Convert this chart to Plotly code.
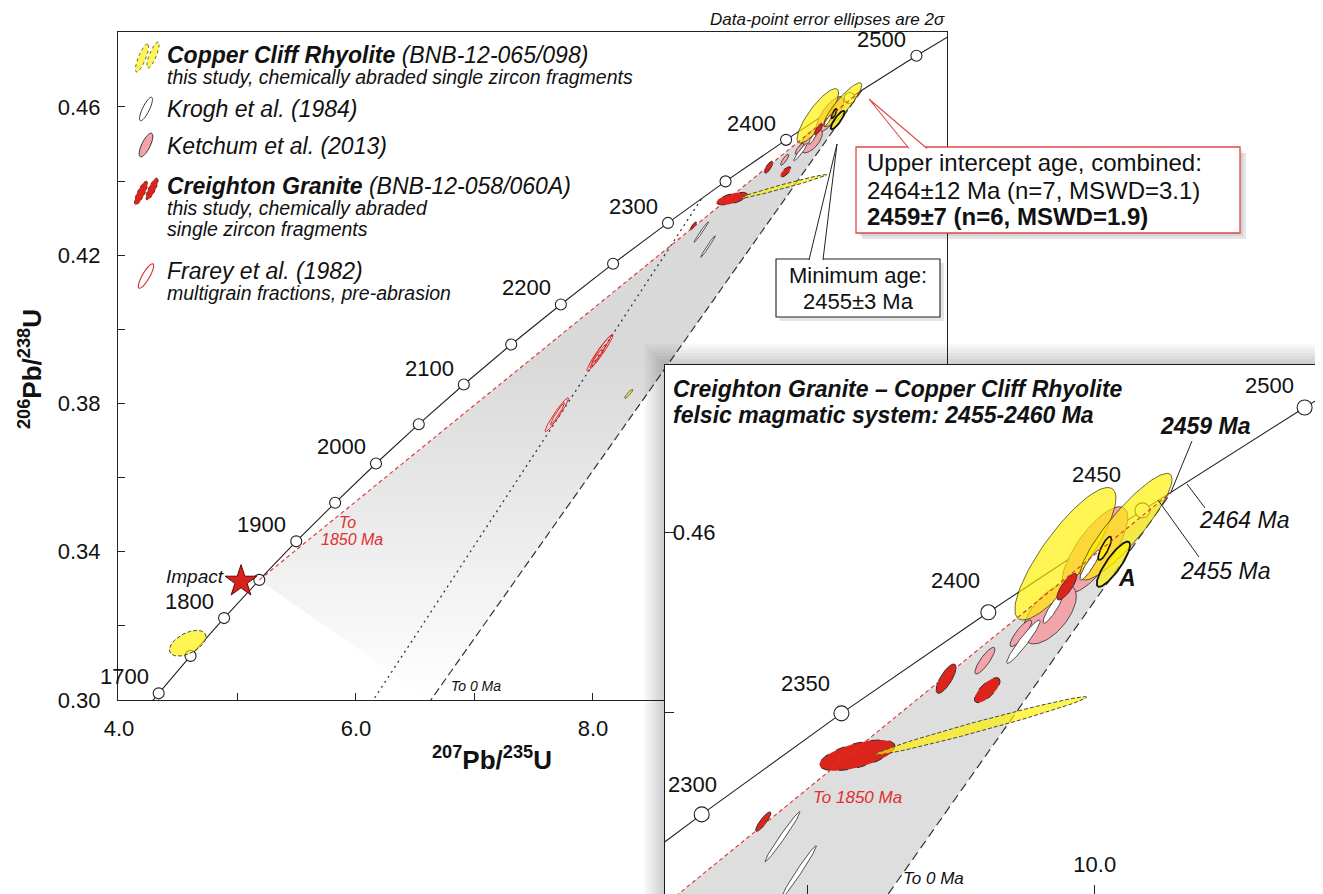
import numpy as np
import plotly.graph_objects as go

# screen size and the page's default body offset
SW, SH = 1323, 894
OFF = 8
W, H = SW - OFF, SH - OFF
FONT = "Liberation Sans, Arial, Helvetica, sans-serif"

# ---------------- data ----------------
# Wetherill concordia reference points (every 50 Ma)
conc_age = [1650, 1700, 1750, 1800, 1850, 1900, 1950, 2000, 2050, 2100,
            2150, 2200, 2250, 2300, 2350, 2400, 2450, 2500, 2550]
conc_x = [4.078, 4.335, 4.604, 4.887, 5.184, 5.496, 5.824, 6.169, 6.530, 6.910,
          7.310, 7.729, 8.170, 8.633, 9.119, 9.630, 10.166, 10.730, 11.322]
conc_y = [0.2917, 0.3018, 0.3119, 0.3221, 0.3324, 0.3428, 0.3532, 0.3638, 0.3744, 0.3851,
          0.3959, 0.4067, 0.4177, 0.4287, 0.4399, 0.4511, 0.4624, 0.4738, 0.4852]
main_label_ages = [1700, 1800, 1900, 2000, 2100, 2200, 2300, 2400, 2500]
inset_label_ages = [2300, 2350, 2400, 2450, 2500]

# chords (end points)
red_chord_x = [5.184, 10.266]      # 1850 Ma -> 2459 Ma
red_chord_y = [0.3324, 0.4644]
zero_chord_x = [0.0, 10.266]       # 0 Ma -> 2459 Ma
zero_chord_y = [0.0, 0.4644]
frarey_chord_x = [0.0, 8.92]
frarey_chord_y = [0.0, 0.4354]
wedge_x = [5.184, 10.266, 6.631]
wedge_y = [0.3324, 0.4644, 0.300]

# Copper Cliff Rhyolite (yellow)
ccr_x = [9.898, 10.109, 10.065, 10.035, 9.604, 4.580, 8.302]
ccr_y = [0.45759, 0.46059, 0.45643, 0.45819, 0.43852, 0.31532, 0.38260]
ccr_sx = [0.1757, 0.160, 0.058, 0.023, 0.368, 0.154, 0.034]
ccr_sy = [0.00734, 0.00591, 0.0025, 0.0013, 0.00323, 0.00346, 0.0012]
ccr_rho = [0.84, 0.89, 0.85, 0.80, 0.984, 0.51, 0.90]
# Creighton Granite (red)
cg_x = [9.174, 9.483, 9.626, 9.903, 8.847]
cg_y = [0.43525, 0.44374, 0.44247, 0.45394, 0.4279]
cg_sx = [0.1316, 0.0348, 0.0446, 0.0348, 0.0266]
cg_sy = [0.0017, 0.00163, 0.00139, 0.00148, 0.00108]
cg_rho = [0.59, 0.76, 0.72, 0.80, 0.87]
# Ketchum et al. (2013) (pink)
ket_x = [10.000, 9.843, 9.743, 9.618]
ket_y = [0.4580, 0.4509, 0.44877, 0.44574]
ket_sx = [0.115, 0.093, 0.0377, 0.0348]
ket_sy = [0.0048, 0.0033, 0.00148, 0.00148]
ket_rho = [0.75, 0.60, 0.85, 0.85]
# Krogh et al. (1984) (white)
kr_x = [8.914, 8.971, 9.752, 9.855, 9.983]
kr_y = [0.42623, 0.42235, 0.44784, 0.45155, 0.45634]
kr_sx = [0.0609, 0.061, 0.058, 0.0348, 0.0348]
kr_sy = [0.00277, 0.0029, 0.0024, 0.00166, 0.00166]
kr_rho = [0.985, 0.985, 0.95, 0.90, 0.90]
# Frarey et al. (1982) (red outline)
fr_x = [8.059, 8.070, 8.045, 7.695, 7.700]
fr_y = [0.39369, 0.3945, 0.3928, 0.37697, 0.3772]
fr_sx = [0.110, 0.080, 0.070, 0.099, 0.060]
fr_sy = [0.00495, 0.0037, 0.0032, 0.00459, 0.0030]
fr_rho = [0.96, 0.97, 0.97, 0.96, 0.97]

impact_x = [5.03]
impact_y = [0.3320]

# ---------------- styles ----------------
YEL = "rgba(255,240,0,0.68)"
RED = "#dc241c"
PINK = "#f2a4ab"
OUT = "#2a2a2a"
ccr_style = [("solid", 0.8), ("solid", 0.8), ("solid", 1.8), ("solid", 1.6),
             ("dash", 1.0), ("dash", 1.0), ("solid", 0.6)]
cg_style = [("dash", 1.0), ("solid", 0.9), ("dash", 1.0), ("solid", 0.9), ("solid", 0.9)]

fig = go.Figure()


def ell_xy(cx, cy, sx, sy, rho, n=90):
    t = np.linspace(0, 2 * np.pi, n)
    return cx + sx * np.cos(t), cy + sy * (rho * np.cos(t) + np.sqrt(1 - rho * rho) * np.sin(t))


def add_ell(cx, cy, sx, sy, rho, fill, lc, lw, dash, xa, ya):
    x, y = ell_xy(cx, cy, sx, sy, rho)
    fig.add_trace(go.Scatter(
        x=x, y=y, mode="lines", fill="toself" if fill else "none",
        fillcolor=fill if fill else None,
        line=dict(color=lc, width=lw, dash=dash),
        xaxis=xa, yaxis=ya, hoverinfo="skip", showlegend=False))


def add_panel(xa, ya, main):
    # wedge
    if main:
        fig.add_trace(go.Scatter(
            x=wedge_x + [wedge_x[0]], y=wedge_y + [wedge_y[0]], mode="none", fill="toself",
            fillgradient=dict(type="vertical", start=0.30, stop=0.392,
                              colorscale=[[0, "rgb(255,255,255)"], [1, "rgb(217,217,217)"]]),
            xaxis=xa, yaxis=ya, hoverinfo="skip", showlegend=False))
        fig.add_trace(go.Scatter(
            x=frarey_chord_x, y=frarey_chord_y, mode="lines",
            line=dict(color="#333", width=1.3, dash="2px,4px"),
            xaxis=xa, yaxis=ya, hoverinfo="skip", showlegend=False))
    else:
        fig.add_trace(go.Scatter(
            x=wedge_x + [wedge_x[0]], y=wedge_y + [wedge_y[0]], mode="none", fill="toself",
            fillcolor="rgb(222,222,222)", xaxis=xa, yaxis=ya, hoverinfo="skip", showlegend=False))
    fig.add_trace(go.Scatter(
        x=zero_chord_x, y=zero_chord_y, mode="lines",
        line=dict(color="#333", width=1.2, dash="9px,5px" if not main else "8px,4px"),
        xaxis=xa, yaxis=ya, hoverinfo="skip", showlegend=False))
    # concordia
    fig.add_trace(go.Scatter(
        x=conc_x, y=conc_y, mode="lines", line=dict(color="#222", width=1.1),
        xaxis=xa, yaxis=ya, hoverinfo="skip", showlegend=False))
    mk = [i for i, a in enumerate(conc_age) if 1700 <= a <= 2500]
    fig.add_trace(go.Scatter(
        x=[conc_x[i] for i in mk], y=[conc_y[i] for i in mk], mode="markers",
        marker=dict(symbol="circle", size=11 if main else 15, color="white",
                    line=dict(color="#222", width=1.1)),
        xaxis=xa, yaxis=ya, hoverinfo="skip", showlegend=False))
    # ellipses
    for i in range(len(ket_x)):
        add_ell(ket_x[i], ket_y[i], ket_sx[i], ket_sy[i], ket_rho[i], PINK, OUT, 0.8, "solid", xa, ya)
    for i in (0, 1):
        d, w = ccr_style[i]
        add_ell(ccr_x[i], ccr_y[i], ccr_sx[i], ccr_sy[i], ccr_rho[i], YEL, "rgba(40,40,0,0.85)", w, d, xa, ya)
    for i in range(len(kr_x)):
        add_ell(kr_x[i], kr_y[i], kr_sx[i], kr_sy[i], kr_rho[i], "white", OUT, 0.8, "solid", xa, ya)
    for i in range(len(cg_x)):
        d, w = cg_style[i]
        add_ell(cg_x[i], cg_y[i], cg_sx[i], cg_sy[i], cg_rho[i], RED, OUT, w, d, xa, ya)
    for i in range(2, len(ccr_x)):
        d, w = ccr_style[i]
        lc = "#111" if d == "solid" else "#444"
        add_ell(ccr_x[i], ccr_y[i], ccr_sx[i], ccr_sy[i], ccr_rho[i], YEL, lc, w, "4px,2px" if d == "dash" else d, xa, ya)
    if main:
        for i in range(len(fr_x)):
            add_ell(fr_x[i], fr_y[i], fr_sx[i], fr_sy[i], fr_rho[i], None, "#e02828", 1.0, "solid", xa, ya)
    fig.add_trace(go.Scatter(
        x=red_chord_x, y=red_chord_y, mode="lines",
        line=dict(color="#e03030", width=1.1, dash="4px,3px"),
        xaxis=xa, yaxis=ya, hoverinfo="skip", showlegend=False))
    if main:
        fig.add_trace(go.Scatter(
            x=impact_x, y=impact_y, mode="markers",
            marker=dict(symbol="star", size=24, color="#d8231c", line=dict(color="#5a0a0a", width=1)),
            xaxis=xa, yaxis=ya, hoverinfo="skip", showlegend=False))


add_panel("x", "y", True)
add_panel("x2", "y2", False)

# ---------------- helpers for screen-pixel decorations ----------------
def P(x, y):
    return (x - OFF) / W, 1 - (y - OFF) / H


def ann(text, x, y, size, color="#111", xanchor="center", yanchor="middle", angle=0):
    px_, py_ = P(x, y)
    return dict(text=text, x=px_, y=py_, xref="paper", yref="paper", showarrow=False,
                font=dict(family=FONT, size=size, color=color), xanchor=xanchor,
                yanchor=yanchor, textangle=angle, borderpad=0)


def rect(x0, y0, x1, y1, fill, line_color=None, lw=0):
    a, b = P(x0, y1)
    c, d = P(x1, y0)
    return dict(type="rect", xref="paper", yref="paper", x0=a, y0=b, x1=c, y1=d,
                fillcolor=fill, line=dict(color=line_color or "rgba(0,0,0,0)", width=lw),
                layer="above")


def path(pts, fill, lc, lw, close=False, dash="solid"):
    s = "M " + " L ".join("%.5f,%.5f" % P(x, y) for x, y in pts)
    if close:
        s += " Z"
    return dict(type="path", xref="paper", yref="paper", path=s, fillcolor=fill,
                line=dict(color=lc, width=lw, dash=dash), layer="above")


def ell_icon(cx, cy, a, b, ang, fill, lc, lw=0.8, dash="solid"):
    th = np.radians(ang)
    t = np.linspace(0, 2 * np.pi, 40, endpoint=False)
    X = cx + a * np.cos(t) * np.cos(th) - b * np.sin(t) * np.sin(th)
    Y = cy - (a * np.cos(t) * np.sin(th) + b * np.sin(t) * np.cos(th))
    return path(list(zip(X, Y)), fill, lc, lw, close=True, dash=dash)


shapes = []
annotations = []

# inset shadow
for k in range(1, 8):
    shapes.append(rect(665 - 3 * k, 365 - 3 * k, 665, 894, "rgba(0,0,0,0.028)"))
    shapes.append(rect(665, 365 - 3 * k, 1323, 365, "rgba(0,0,0,0.028)"))

# legend icons
shapes += [
    ell_icon(142, 58, 15, 3.6, 68, YEL, "#333", 0.8, "dot"),
    ell_icon(153, 55, 14, 3.4, 68, YEL, "#333", 0.8, "dot"),
    ell_icon(146, 109, 13, 3.4, 64, "white", "#222", 0.9),
    ell_icon(146, 145, 13, 4.2, 64, PINK, "#222", 0.9),
    ell_icon(141, 193, 13, 3.6, 64, RED, "#222", 0.8, "dot"),
    ell_icon(152, 189, 12, 3.4, 64, RED, "#222", 0.8, "dot"),
    ell_icon(146, 276, 14, 3.6, 60, "rgba(0,0,0,0)", "#e02828", 1.1),
]

# callout: upper intercept
shapes.append(rect(862, 153, 1246, 239, "rgba(0,0,0,0.10)"))
shapes.append(rect(859, 150, 1243, 236, "rgba(0,0,0,0.08)"))
shapes.append(rect(856, 147, 1240, 233, "white", "#e04848", 1.3))
shapes.append(path([(909, 148.5), (869, 99), (927, 148.5)], "white", "#e04848", 1.1))
# callout: minimum age
shapes.append(rect(779, 263, 944, 321, "rgba(0,0,0,0.10)"))
shapes.append(rect(776, 259, 940, 317, "white", "#222", 1.1))
shapes.append(path([(809, 260), (837, 144), (823, 260)], "white", "#222", 1.0))

# inset leader lines
shapes.append(path([(1171, 492), (1192, 441)], None, "#222", 1.0))
shapes.append(path([(1187, 484), (1205, 508)], None, "#222", 1.0))
shapes.append(path([(1158, 500), (1199, 557)], None, "#222", 1.0))

# ---------------- text ----------------
annotations.append(ann("<i>Data-point error ellipses are 2σ</i>", 946, 19, 17, xanchor="right"))
# legend
annotations += [
    ann("<b><i>Copper Cliff Rhyolite</i></b><i> (BNB-12-065/098)</i>", 166, 55, 23, xanchor="left"),
    ann("<i>this study, chemically abraded single zircon fragments</i>", 166, 77, 19.5, xanchor="left"),
    ann("<i>Krogh et al. (1984)</i>", 166, 109, 23, xanchor="left"),
    ann("<i>Ketchum et al. (2013)</i>", 166, 146, 23, xanchor="left"),
    ann("<b><i>Creighton Granite</i></b><i> (BNB-12-058/060A)</i>", 166, 186, 23, xanchor="left"),
    ann("<i>this study, chemically abraded</i>", 166, 208, 19.5, xanchor="left"),
    ann("<i>single zircon fragments</i>", 166, 229, 19.5, xanchor="left"),
    ann("<i>Frarey et al. (1982)</i>", 166, 271, 23, xanchor="left"),
    ann("<i>multigrain fractions, pre-abrasion</i>", 166, 293, 19.5, xanchor="left"),
]
# callout text
annotations += [
    ann("Upper intercept age, combined:", 866, 163, 24, xanchor="left"),
    ann("2464±12 Ma (n=7, MSWD=3.1)", 866, 190, 24, xanchor="left"),
    ann("<b>2459±7 (n=6, MSWD=1.9)</b>", 866, 217, 24, xanchor="left"),
    ann("Minimum age:", 858, 276, 22),
    ann("2455±3 Ma", 858, 302, 22),
]
# main plot notes
annotations += [
    ann("<i>Impact</i>", 195, 576, 19),
    ann("<i>To</i>", 347, 522, 16, color="#e03030"),
    ann("<i>1850 Ma</i>", 352, 539, 16, color="#e03030"),
    ann("<i>To 0 Ma</i>", 450, 686, 14, xanchor="left"),
    ann("<b><sup>207</sup>Pb/<sup>235</sup>U</b>", 492, 758, 26),
    ann("<b><sup>206</sup>Pb/<sup>238</sup>U</b>", 30, 369, 26, angle=-90),
]
# inset text
annotations += [
    ann("<b><i>Creighton Granite – Copper Cliff Rhyolite</i></b>", 672, 389, 23, xanchor="left"),
    ann("<b><i>felsic magmatic system: 2455-2460 Ma</i></b>", 672, 415, 23, xanchor="left"),
    ann("<b><i>2459 Ma</i></b>", 1205, 426, 23),
    ann("<i>2464 Ma</i>", 1244, 520, 23),
    ann("<i>2455 Ma</i>", 1225, 571, 23),
    ann("<b><i>A</i></b>", 1127, 578, 23),
    ann("<i>To 1850 Ma</i>", 857, 797, 17, color="#e03030"),
    ann("<i>To 0 Ma</i>", 933, 878, 17),
]

# concordia age labels (anchored to concordia points)
for a in main_label_ages:
    i = conc_age.index(a)
    annotations.append(dict(text=str(a), x=conc_x[i], y=conc_y[i], xref="x", yref="y",
                            showarrow=False, xanchor="right", yanchor="bottom",
                            xshift=-8, yshift=2, font=dict(family=FONT, size=22, color="#111")))
inset_shift = {2300: (17, 15), 2350: (-9, 15), 2400: (-6, 17), 2450: (-19, 21), 2500: (-9, 8)}
for a in inset_label_ages:
    i = conc_age.index(a)
    dx, dy = inset_shift[a]
    annotations.append(dict(text=str(a), x=conc_x[i], y=conc_y[i], xref="x2", yref="y2",
                            showarrow=False, xanchor="right", yanchor="bottom",
                            xshift=dx, yshift=dy, font=dict(family=FONT, size=22, color="#111")))


def dom_x(a, b):
    return [(a - OFF) / W, min(1.0, (b - OFF) / W)]


def dom_y(top, bottom):
    return [max(0.0, 1 - (bottom - OFF) / H), 1 - (top - OFF) / H]


tickfont = dict(family=FONT, size=22, color="#111")
fig.update_layout(
    width=W, height=H, margin=dict(l=0, r=0, t=0, b=0, pad=0, autoexpand=False),
    paper_bgcolor="white", plot_bgcolor="white", showlegend=False,
    xaxis=dict(domain=dom_x(118, 947), range=[3.9916, 10.988], anchor="y",
               showline=True, mirror=True, linecolor="#222", linewidth=1.2,
               ticks="inside", ticklen=7, tickcolor="#222",
               tickvals=[4, 5, 6, 7, 8, 9, 10],
               ticktext=["4.0", "", "6.0", "", "8.0", "", ""], automargin=False,
               tickfont=tickfont, showgrid=False, zeroline=False, ticklabelstandoff=8),
    yaxis=dict(domain=dom_y(32, 700), range=[0.30, 0.4802], anchor="x",
               showline=True, mirror=True, linecolor="#222", linewidth=1.2,
               ticks="inside", ticklen=7, tickcolor="#222",
               tickvals=[0.30, 0.32, 0.34, 0.36, 0.38, 0.40, 0.42, 0.44, 0.46, 0.48],
               ticktext=["0.30", "", "0.34", "", "0.38", "", "0.42", "", "0.46", ""],
               automargin=False,
               tickfont=tickfont, showgrid=False, zeroline=False, ticklabelstandoff=12),
    xaxis2=dict(domain=dom_x(665, SW), range=[8.5053, 10.794], anchor="y2",
                showline=True, mirror=True, linecolor="#222", linewidth=1.2,
                ticks="inside", ticklen=9, tickcolor="#222", automargin=False,
                tickvals=[9.0, 10.0], ticktext=["", "10.0"], ticklabelposition="inside",
                ticklabelstandoff=10,
                tickfont=tickfont, showgrid=False, zeroline=False),
    yaxis2=dict(domain=dom_y(365, SH), range=[0.41988, 0.47851], anchor="x2",
                showline=True, mirror=False, linecolor="#222", linewidth=1.2,
                ticks="inside", ticklen=9, tickcolor="#222", automargin=False,
                tickvals=[0.44, 0.46], ticktext=["", "0.46"], ticklabelposition="inside",
                tickfont=tickfont, showgrid=False, zeroline=False),
    shapes=shapes, annotations=annotations,
)

fig.write_html("out.html")
